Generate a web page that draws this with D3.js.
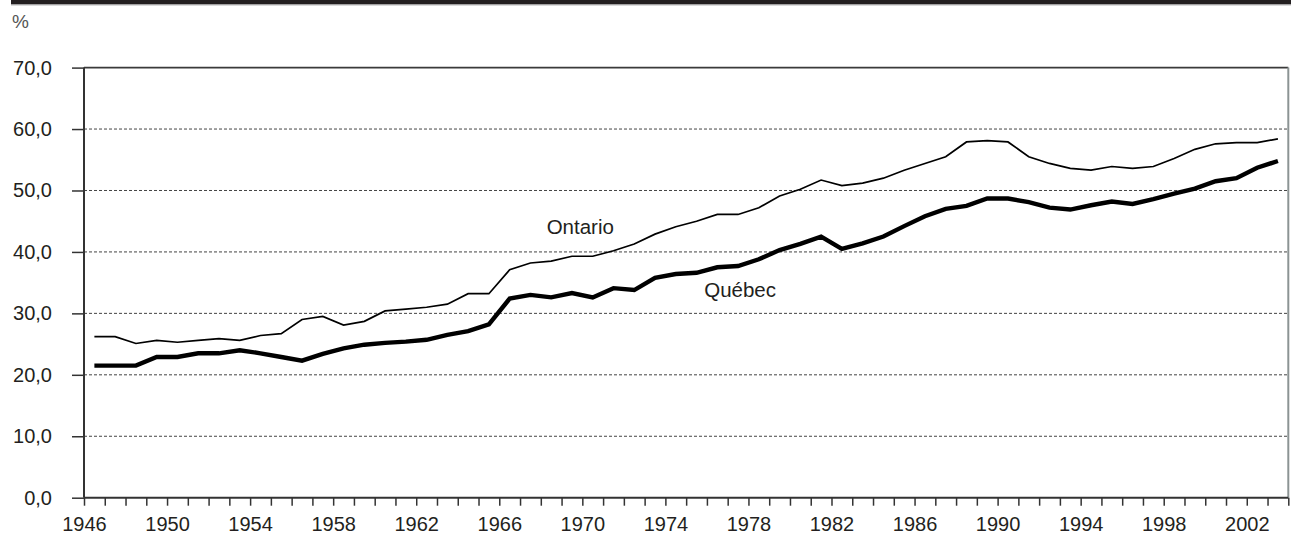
<!DOCTYPE html>
<html>
<head>
<meta charset="utf-8">
<script src="https://cdn.jsdelivr.net/npm/d3@7"></script>
<style>
  body { margin: 0; background: #fff; }
  text { font-family: "Liberation Sans", Arial, sans-serif; fill: #231f20; }
</style>
</head>
<body>
<div id="chart"></div>
<script>
// Categories: one per year, 1946 to 2003
const years = d3.range(1946, 2004);

// Share (%)
const ontario = [
  26.2, 26.2, 25.1, 25.6, 25.3, 25.6, 25.9, 25.6, 26.4, 26.7,
  29.0, 29.5, 28.1, 28.7, 30.4, 30.7, 31.0, 31.5, 33.2, 33.2,
  37.1, 38.2, 38.5, 39.3, 39.3, 40.2, 41.3, 42.9, 44.1, 45.0,
  46.1, 46.1, 47.2, 49.1, 50.2, 51.7, 50.8, 51.2, 52.0, 53.3,
  54.4, 55.5, 57.9, 58.1, 57.9, 55.5, 54.4, 53.6, 53.3, 53.9,
  53.6, 53.9, 55.2, 56.7, 57.6, 57.8, 57.8, 58.4
];
const quebec = [
  21.5, 21.5, 21.5, 22.9, 22.9, 23.5, 23.5, 24.0, 23.5, 22.9,
  22.3, 23.4, 24.3, 24.9, 25.2, 25.4, 25.7, 26.5, 27.1, 28.2,
  32.4, 33.0, 32.6, 33.3, 32.6, 34.1, 33.8, 35.8, 36.4, 36.6,
  37.5, 37.7, 38.8, 40.3, 41.3, 42.5, 40.5, 41.4, 42.5, 44.2,
  45.8, 47.0, 47.5, 48.7, 48.7, 48.1, 47.2, 46.9, 47.6, 48.2,
  47.8, 48.6, 49.5, 50.3, 51.5, 52.0, 53.7, 54.8
];

const yTicks = [0, 10, 20, 30, 40, 50, 60, 70];
const xLabelYears = [1946, 1950, 1954, 1958, 1962, 1966, 1970, 1974, 1978, 1982, 1986, 1990, 1994, 1998, 2002];

const W = 1291, H = 537;
const margin = { top: 67.6, right: 2.7, bottom: 39.3, left: 84 };
const width = W - margin.left - margin.right;
const height = H - margin.top - margin.bottom;

const svg = d3.select("#chart").append("svg")
  .attr("width", W)
  .attr("height", H);

// black band at the top
svg.append("rect")
  .attr("x", 11).attr("y", 0)
  .attr("width", W - 11).attr("height", 4.5)
  .attr("fill", "#231f20");
svg.append("line")
  .attr("x1", 11).attr("x2", W)
  .attr("y1", 5).attr("y2", 5)
  .attr("stroke", "#b5b5b5").attr("stroke-width", 1);

svg.append("text")
  .attr("x", 12).attr("y", 28)
  .style("font-size", "19px")
  .style("fill", "#555")
  .text("%");

const g = svg.append("g")
  .attr("transform", "translate(" + margin.left + "," + margin.top + ")");

// x: year edges (ticks sit between categories, points at the centre)
const x = d3.scaleLinear().domain([1946, 2004]).range([0, width]);
const y = d3.scaleLinear().domain([0, 70]).range([height, 0]);

// gridlines
g.append("g")
  .selectAll("line")
  .data(yTicks.filter(d => d > 0 && d < 70))
  .enter().append("line")
  .attr("x1", 0).attr("x2", width)
  .attr("y1", d => y(d)).attr("y2", d => y(d))
  .attr("stroke", "#444")
  .attr("stroke-width", 1)
  .attr("stroke-dasharray", "3,2");

// frame: top dark, right grey
g.append("line")
  .attr("x1", 0).attr("x2", width)
  .attr("y1", 0).attr("y2", 0)
  .attr("stroke", "#3a3a3a").attr("stroke-width", 1.6);
g.append("line")
  .attr("x1", width).attr("x2", width)
  .attr("y1", 0).attr("y2", height)
  .attr("stroke", "#8c9494").attr("stroke-width", 2);

// y axis
const yAxis = g.append("g")
  .call(d3.axisLeft(y)
    .tickValues(yTicks)
    .tickSize(12)
    .tickPadding(20)
    .tickFormat(d => d3.format(".1f")(d).replace(".", ",")));
yAxis.select(".domain").remove();
yAxis.selectAll(".tick line").attr("stroke", "#333").attr("stroke-width", 1.5);
yAxis.selectAll(".tick text").style("font-size", "20px").attr("fill", "#231f20");

// x axis
const xAxis = g.append("g")
  .attr("transform", "translate(0," + height + ")")
  .call(d3.axisBottom(x)
    .tickValues(d3.range(1946, 2005))
    .tickSize(8)
    .tickPadding(11)
    .tickFormat(d => xLabelYears.includes(d) ? d : ""));
xAxis.select(".domain").remove();
xAxis.selectAll(".tick line").attr("stroke", "#333").attr("stroke-width", 1.5);
xAxis.selectAll(".tick text").style("font-size", "20px").attr("fill", "#231f20");

// axis lines
g.append("line")
  .attr("x1", 0).attr("x2", 0)
  .attr("y1", 0).attr("y2", height)
  .attr("stroke", "#333").attr("stroke-width", 2);
g.append("line")
  .attr("x1", 0).attr("x2", width)
  .attr("y1", height).attr("y2", height)
  .attr("stroke", "#333").attr("stroke-width", 2);

// lines
const line = d3.line()
  .x((d, i) => x(years[i] + 0.5))
  .y(d => y(d));

g.append("path")
  .datum(ontario)
  .attr("d", line)
  .attr("fill", "none")
  .attr("stroke", "#000")
  .attr("stroke-width", 1.7);

g.append("path")
  .datum(quebec)
  .attr("d", line)
  .attr("fill", "none")
  .attr("stroke", "#000")
  .attr("stroke-width", 4.4);

// series labels
g.append("text")
  .attr("x", x(1969.9)).attr("y", y(43) + 0.5)
  .attr("text-anchor", "middle")
  .style("font-size", "20.5px")
  .text("Ontario");

g.append("text")
  .attr("x", x(1977.6)).attr("y", y(32.6))
  .attr("text-anchor", "middle")
  .style("font-size", "20.5px")
  .text("Québec");
</script>
</body>
</html>
